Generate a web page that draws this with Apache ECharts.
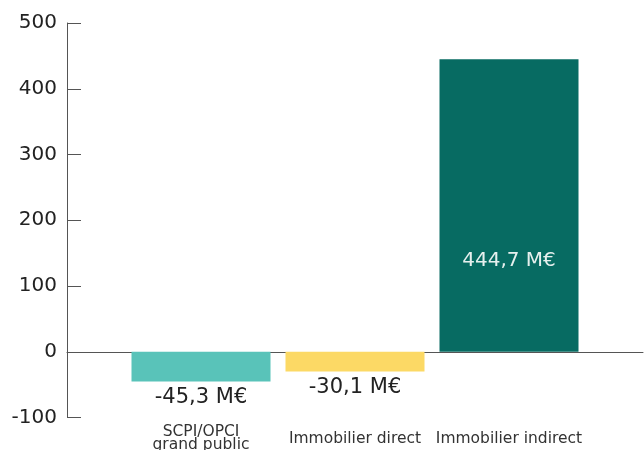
<!DOCTYPE html>
<html><head><meta charset="utf-8">
<script src="https://cdn.jsdelivr.net/npm/echarts@6/dist/echarts.min.js"></script>
<style>html,body{margin:0;padding:0;background:#fff}#c{width:644px;height:450px}</style>
</head><body><div id="c"></div>
<script>
const categories = ['SCPI/OPCI\ngrand public', 'Immobilier direct', 'Immobilier indirect'];
const values = [-45.3, -30.1, 444.7];
const labels = ['-45,3 M€', '-30,1 M€', '444,7 M€'];
const colors = ['#59C3B9', '#FCD965', '#076B62'];
const yMin = -100, yMax = 500, yStep = 100;

const FONT = '"DejaVu Sans", sans-serif';
const chart = echarts.init(document.getElementById('c'));
const gTop = 23, gBottom = 32.5;
chart.setOption({
  animation: false,
  grid: [
    {left: 124, right: 58, top: gTop, bottom: gBottom, outerBoundsMode: 'none', containLabel: false},
    {left: 67, right: 1, top: gTop, bottom: gBottom, outerBoundsMode: 'none', containLabel: false}
  ],
  xAxis: [
    {type: 'category', gridIndex: 0, data: categories,
     axisLine: {show: false}, axisTick: {show: false},
     axisLabel: {interval: 0, margin: 21, verticalAlign: 'middle', color: '#333', fontFamily: FONT, fontSize: 15.5, lineHeight: 13}},
    {type: 'value', gridIndex: 1, min: 0, max: 1, splitLine: {show: false},
     axisLabel: {show: false}, axisTick: {show: false},
     axisLine: {show: true, onZero: true, lineStyle: {color: '#555', width: 1}}}
  ],
  yAxis: [
    {type: 'value', gridIndex: 0, min: yMin, max: yMax, interval: yStep, offset: 57,
     splitLine: {show: false},
     axisLine: {show: true, lineStyle: {color: '#555', width: 1}},
     axisTick: {show: true, inside: true, length: 14, lineStyle: {color: '#555'}},
     axisLabel: {margin: 10, color: '#222', fontFamily: FONT, fontSize: 20}},
    {type: 'value', gridIndex: 1, min: yMin, max: yMax, show: false}
  ],
  series: [{
    type: 'bar', xAxisIndex: 0, yAxisIndex: 0,
    barWidth: 139,
    data: values.map((v, i) => ({
      value: v,
      itemStyle: {color: colors[i]},
      label: v < 0
        ? {show: true, position: 'bottom', distance: 6, formatter: labels[i], color: '#222', fontFamily: FONT, fontSize: 21}
        : {show: true, position: ['50%', '69%'], align: 'center', verticalAlign: 'middle', formatter: labels[i], color: '#E6F0EE', fontFamily: FONT, fontSize: 20}
    }))
  }]
});
</script></body></html>
